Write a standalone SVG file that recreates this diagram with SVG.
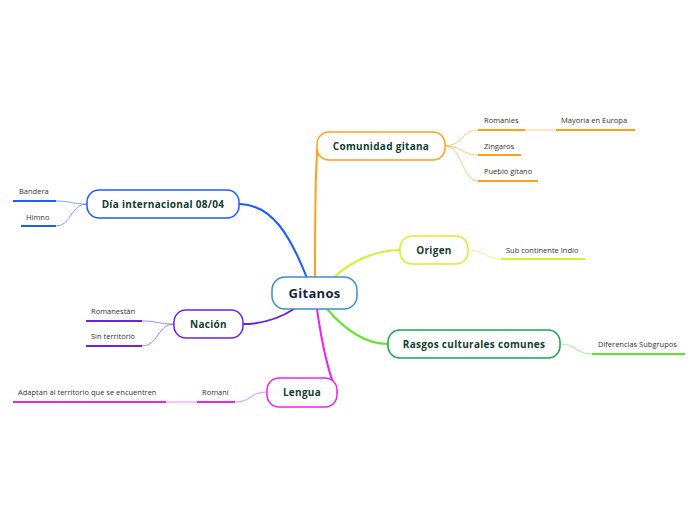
<svg xmlns="http://www.w3.org/2000/svg" width="696" height="520" viewBox="0 0 696 520">
<style>
.node{fill:#fff;stroke-width:1.5}
.nt{font-family:"Open Sans","Noto Sans",sans-serif;font-weight:bold;font-size:10px;fill:#12402f;text-anchor:middle;letter-spacing:0.3px}
.lt{font-family:"Open Sans","Noto Sans",sans-serif;font-size:7.5px;fill:#333}
.main{fill:none;stroke-width:2;stroke-linecap:round}
.sub{fill:none;stroke-width:1;stroke-opacity:0.55}
.ul{fill:none;stroke-width:2}
</style>
<rect width="696" height="520" fill="#fff"/>
<g id="connectors">
<path class="main" stroke="#ff9f1a" d="M315,278 C315,220 315,160 318,146"/>
<path class="main" stroke="#1a5cff" d="M307,278 C290,235 272,205 240,204"/>
<path class="main" stroke="#d6f02a" d="M333,278 C350,262 375,250 400,250"/>
<path class="main" stroke="#5ce62a" d="M327,309 C345,330 365,344 388,344"/>
<path class="main" stroke="#6a22ea" d="M294,309 C280,318 262,324 243,324"/>
<path class="main" stroke="#ee22ee" d="M317,309 C322,345 328,372 337,393"/>
<path class="sub" stroke="#ff9f1a" d="M445,146 C462,146 462,130 478,130"/>
<path class="sub" stroke="#ff9f1a" d="M445,146 C462,146 462,155 478,155"/>
<path class="sub" stroke="#ff9f1a" d="M445,146 C462,146 462,181 478,181"/>
<path class="sub" stroke="#ff9f1a" d="M525,130 L556,130"/>
<path class="sub" stroke="#d6f02a" d="M468,250 C485,250 485,259 501,259"/>
<path class="sub" stroke="#5ce62a" d="M560,344 C576,344 576,354 592,354"/>
<path class="sub" stroke="#1a5cff" d="M87,204 C70,204 72,201 56,201"/>
<path class="sub" stroke="#1a5cff" d="M87,204 C70,204 72,226 56,226"/>
<path class="sub" stroke="#6a22ea" d="M174,324 C157,324 159,321 142,321"/>
<path class="sub" stroke="#6a22ea" d="M174,324 C157,324 159,346 142,346"/>
<path class="sub" stroke="#ee22ee" d="M267,392 C250,392 252,402 235,402"/>
<path class="sub" stroke="#ee22ee" d="M166,402 L197,402"/>
</g>
<g id="n-gitanos"><rect class="node" x="272" y="277" width="85" height="32" rx="13" stroke="#3a8fd0"/><text class="nt" x="314.5" y="297.5" style="font-size:13px;fill:#162447">Gitanos</text></g>
<g id="n-comunidad"><rect class="node" x="317" y="132" width="128" height="28" rx="12" stroke="#ff9f1a"/><text class="nt" x="381" y="149.5">Comunidad gitana</text></g>
<g id="n-origen"><rect class="node" x="400" y="236" width="68" height="28" rx="12" stroke="#d6f02a"/><text class="nt" x="434" y="253.5">Origen</text></g>
<g id="n-rasgos"><rect class="node" x="388" y="330" width="172" height="28" rx="12" stroke="#1aa34a"/><text class="nt" x="474" y="347.5">Rasgos culturales comunes</text></g>
<g id="n-dia"><rect class="node" x="87" y="190" width="152" height="28" rx="12" stroke="#1a5cff"/><text class="nt" x="163" y="207.5">Día internacional 08/04</text></g>
<g id="n-nacion"><rect class="node" x="174" y="310" width="69" height="28" rx="12" stroke="#6a22ea"/><text class="nt" x="208.5" y="327.5">Nación</text></g>
<g id="n-lengua"><rect class="node" x="267" y="378" width="70" height="29" rx="12" stroke="#ee22ee"/><text class="nt" x="302" y="396">Lengua</text></g>
<g id="l-romanies"><path class="ul" stroke="#ff9f1a" d="M478,130 H525"/><text class="lt" x="484" y="123">Romanies</text></g>
<g id="l-mayoria"><path class="ul" stroke="#ff9f1a" d="M556,130 H635"/><text class="lt" x="561" y="123">Mayoría en Europa</text></g>
<g id="l-zingaros"><path class="ul" stroke="#ff9f1a" d="M478,155 H521"/><text class="lt" x="484" y="149">Zingaros</text></g>
<g id="l-pueblo"><path class="ul" stroke="#ff9f1a" d="M478,181 H538"/><text class="lt" x="484" y="174">Pueblo gitano</text></g>
<g id="l-sub"><path class="ul" stroke="#d6f02a" d="M501,259 H585"/><text class="lt" x="506" y="253">Sub continente Indio</text></g>
<g id="l-dif"><path class="ul" stroke="#5ce62a" d="M592,354 H685"/><text class="lt" x="598" y="347">Diferencias Subgrupos</text></g>
<g id="l-bandera"><path class="ul" stroke="#1a5cff" d="M13,201 H56"/><text class="lt" x="19" y="194">Bandera</text></g>
<g id="l-himno"><path class="ul" stroke="#1a5cff" d="M21,226 H56"/><text class="lt" x="26" y="220">Himno</text></g>
<g id="l-romanestan"><path class="ul" stroke="#6a22ea" d="M86,321 H142"/><text class="lt" x="91" y="314">Romanestán</text></g>
<g id="l-sinterritorio"><path class="ul" stroke="#6a22ea" d="M86,346 H142"/><text class="lt" x="91" y="339">Sin territorio</text></g>
<g id="l-romani"><path class="ul" stroke="#ee22ee" d="M197,402 H235"/><text class="lt" x="202" y="395">Romaní</text></g>
<g id="l-adaptan"><path class="ul" stroke="#ee22ee" d="M13,402 H166"/><text class="lt" x="18" y="395">Adaptan al territorio que se encuentren</text></g>
</svg>
